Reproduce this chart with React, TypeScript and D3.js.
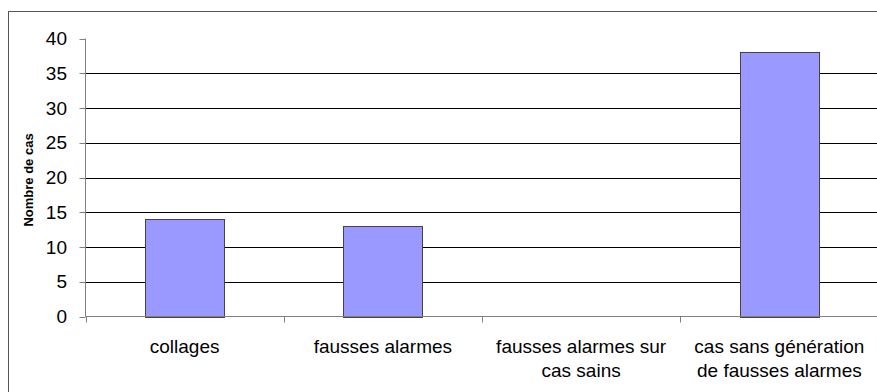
import React from "react";
import * as d3 from "d3";

const categories: string[][] = [
  ["collages"],
  ["fausses alarmes"],
  ["fausses alarmes sur", "cas sains"],
  ["cas sans génération", "de fausses alarmes"],
];
const values: number[] = [14, 13, 0, 38];
const yTicks: number[] = [0, 5, 10, 15, 20, 25, 30, 35, 40];
const yTitle = "Nombre de cas";

const W = 877;
const H = 392;
const left = 85.5;
const right = 878.5;
const top = 38.5;
const bottom = 316.5;
const FONT = "'Liberation Sans', Arial, sans-serif";

export default function App() {
  const keys = categories.map((c) => c.join(" "));
  const x = d3
    .scaleBand<string>()
    .domain(keys)
    .range([left, right])
    .paddingInner(0.6)
    .paddingOuter(0.3);
  const y = d3.scaleLinear().domain([0, 40]).range([bottom, top]);
  const step = x.step();
  const rangeStart = left;

  return (
    <svg
      width={W}
      height={H}
      style={{ position: "absolute", left: 0, top: 0, display: "block", background: "#fff" }}
      fontFamily={FONT}
    >
      <rect x={0} y={0} width={W} height={H} fill="#fff" />
      {/* outer chart border (cropped at right/bottom) */}
      <rect x={8.5} y={11.5} width={900} height={400} fill="none" stroke="#555" strokeWidth={1} />

      {/* gridlines */}
      {yTicks
        .filter((t) => t > 0 && t < 40)
        .map((t) => (
          <line key={"g" + t} x1={left} x2={right} y1={Math.round(y(t)) + 0.5} y2={Math.round(y(t)) + 0.5} stroke="#000" strokeWidth={1} />
        ))}

      {/* bars */}
      {values.map((v, i) => {
        const k = keys[i];
        if (v <= 0) return null;
        const x0 = Math.round(x(k)!) + 0.5;
        const w = Math.round(x.bandwidth());
        const y0 = Math.round(y(v)) + 0.5;
        return (
          <rect
            key={"b" + i}
            x={x0}
            y={y0}
            width={w}
            height={Math.round(y(0)) + 0.5 - y0}
            fill="#9999ff"
            stroke="#444"
            strokeWidth={1}
          />
        );
      })}

      {/* y axis */}
      <line x1={left} x2={left} y1={top} y2={bottom} stroke="#808080" strokeWidth={1} />
      {yTicks.map((t) => (
        <g key={"yt" + t}>
          <line x1={left - 6} x2={left} y1={Math.round(y(t)) + 0.5} y2={Math.round(y(t)) + 0.5} stroke="#808080" strokeWidth={1} />
          <text x={67} y={y(t)} dy="0.35em" textAnchor="end" fontSize={19} fill="#000">
            {t}
          </text>
        </g>
      ))}

      {/* x axis */}
      <line x1={left} x2={right} y1={bottom} y2={bottom} stroke="#808080" strokeWidth={1} />
      {d3.range(0, keys.length + 1).map((i) => {
        const xx = Math.round(rangeStart + i * step) + 0.5;
        return <line key={"xt" + i} x1={xx} x2={xx} y1={bottom} y2={bottom + 6} stroke="#808080" strokeWidth={1} />;
      })}
      {categories.map((lines, i) => {
        const cx = x(keys[i])! + x.bandwidth() / 2;
        return (
          <text key={"xl" + i} x={cx} y={353} textAnchor="middle" fontSize={19} fill="#000">
            {lines.map((l, j) => (
              <tspan key={j} x={cx} dy={j === 0 ? 0 : 24}>
                {l}
              </tspan>
            ))}
          </text>
        );
      })}

      {/* y title */}
      <text
        transform={`translate(33,180) rotate(-90)`}
        textAnchor="middle"
        fontSize={13}
        fontWeight="bold"
        fill="#000"
      >
        {yTitle}
      </text>
    </svg>
  );
}
